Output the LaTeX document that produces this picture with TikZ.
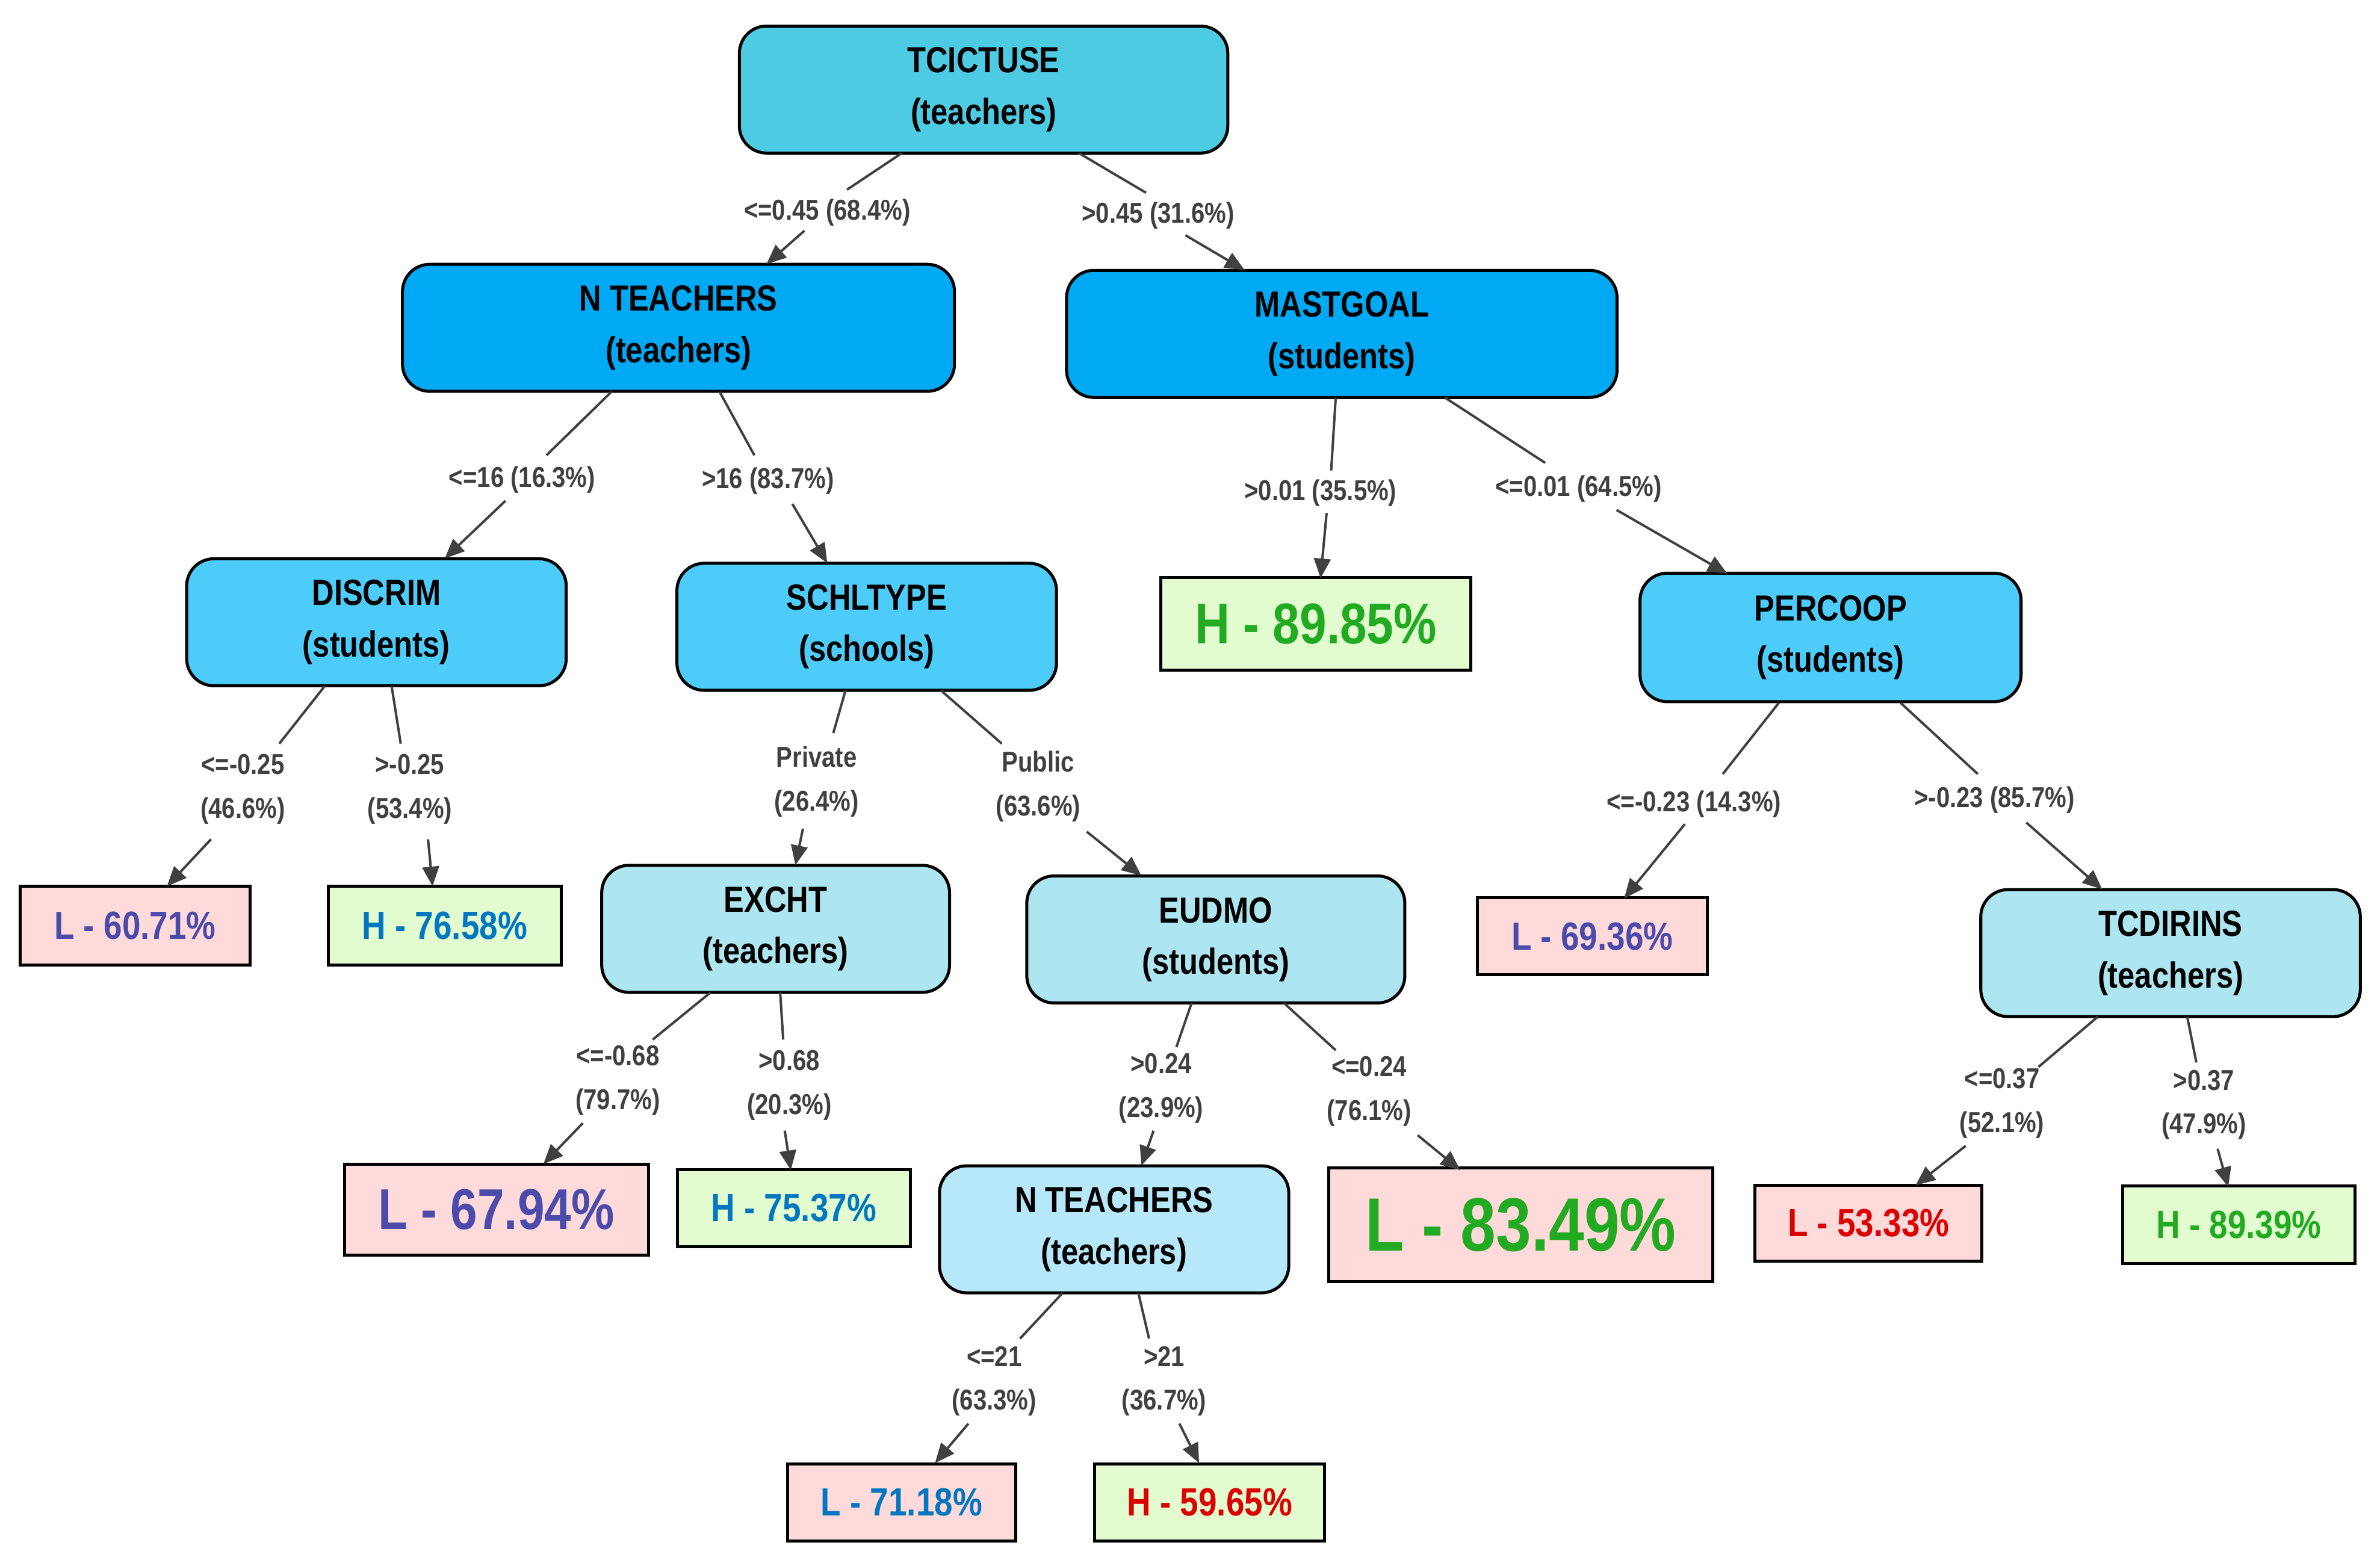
\documentclass[tikz,border=0pt]{standalone}
\usepackage{fontspec}
\setmainfont{Liberation Sans}[FakeStretch=0.84]
\usetikzlibrary{arrows.meta}
\definecolor{c1}{HTML}{4DCBE3}
\definecolor{c2}{HTML}{00A9F4}
\definecolor{c3}{HTML}{4DCCFA}
\definecolor{c4}{HTML}{ADE6F0}
\definecolor{c5}{HTML}{B7E8F9}
\definecolor{lp}{HTML}{FFDADA}
\definecolor{lg}{HTML}{E2FCD0}
\definecolor{tpur}{HTML}{4B4BAB}
\definecolor{tblu}{HTML}{0077C0}
\definecolor{tgrn}{HTML}{22AA22}
\definecolor{tred}{HTML}{DD0000}
\definecolor{edge}{HTML}{404040}
\begin{document}
\begin{tikzpicture}[x=1bp,y=-1bp,
 inn/.style={draw=black,line width=2,rounded corners=18,align=center,font=\bfseries\fontsize{24}{34}\selectfont,inner sep=0},
 leaf/.style={draw=black,line width=2,align=center,font=\bfseries\fontsize{26}{30}\selectfont,inner sep=0},
 lbl/.style={align=center,text=edge,font=\bfseries\fontsize{19}{29}\selectfont,inner sep=0},
 ln/.style={edge,line width=1.6},
 ar/.style={edge,line width=1.6,-{Triangle[length=13,width=11]}}]
\useasboundingbox (0,0) rectangle (1568,1031.5);
% internal nodes
\node[inn,fill=c1,minimum width=323,minimum height=84] (tc) at (648,59) {TCICTUSE\\(teachers)};
\node[inn,fill=c2,minimum width=365,minimum height=84] (nt) at (447,216) {N TEACHERS\\(teachers)};
\node[inn,fill=c2,minimum width=364,minimum height=84] (mg) at (884,220) {MASTGOAL\\(students)};
\node[inn,fill=c3,minimum width=251,minimum height=84] (di) at (248,410) {DISCRIM\\(students)};
\node[inn,fill=c3,minimum width=251,minimum height=84] (sc) at (571,413) {SCHLTYPE\\(schools)};
\node[inn,fill=c3,minimum width=252,minimum height=85] (pc) at (1206,420) {PERCOOP\\(students)};
\node[inn,fill=c4,minimum width=230,minimum height=84] (ex) at (511,612) {EXCHT\\(teachers)};
\node[inn,fill=c4,minimum width=250,minimum height=84] (eu) at (801,619) {EUDMO\\(students)};
\node[inn,fill=c4,minimum width=251,minimum height=84] (td) at (1430,628) {TCDIRINS\\(teachers)};
\node[inn,fill=c5,minimum width=231,minimum height=84] (n2) at (734,810) {N TEACHERS\\(teachers)};
% leaves
\node[leaf,fill=lp,text=tpur,minimum width=152,minimum height=52] (a) at (89,610) {L - 60.71\%};
\node[leaf,fill=lg,text=tblu,minimum width=154,minimum height=52] (b) at (293,610) {H - 76.58\%};
\node[leaf,fill=lg,text=tgrn,minimum width=205,minimum height=61,font=\bfseries\fontsize{38}{40}\selectfont] (c) at (867,411) {H - 89.85\%};
\node[leaf,fill=lp,text=tpur,minimum width=152,minimum height=51] (d) at (1049,617) {L - 69.36\%};
\node[leaf,fill=lp,text=tpur,minimum width=201,minimum height=60,font=\bfseries\fontsize{38}{40}\selectfont] (e) at (327,797) {L - 67.94\%};
\node[leaf,fill=lg,text=tblu,minimum width=154,minimum height=51] (f) at (523,796) {H - 75.37\%};
\node[leaf,fill=lp,text=tgrn,minimum width=254,minimum height=75,font=\bfseries\fontsize{50}{52}\selectfont] (g) at (1002,807) {L - 83.49\%};
\node[leaf,fill=lp,text=tred,minimum width=150,minimum height=50] (h) at (1231,806) {L - 53.33\%};
\node[leaf,fill=lg,text=tgrn,minimum width=154,minimum height=51] (i) at (1475,807) {H - 89.39\%};
\node[leaf,fill=lp,text=tblu,minimum width=151,minimum height=51] (j) at (594,990) {L - 71.18\%};
\node[leaf,fill=lg,text=tred,minimum width=152,minimum height=51] (k) at (797,990) {H - 59.65\%};
% edge labels
\node[lbl] (l1) at (545,140) {<=0.45 (68.4\%)};
\node[lbl] (l2) at (763,142) {>0.45 (31.6\%)};
\node[lbl] (l3) at (344,316) {<=16 (16.3\%)};
\node[lbl] (l4) at (506,317) {>16 (83.7\%)};
\node[lbl] (l5) at (870,325) {>0.01 (35.5\%)};
\node[lbl] (l6) at (1040,322) {<=0.01 (64.5\%)};
\node[lbl] (l7) at (160,520) {<=-0.25\\(46.6\%)};
\node[lbl] (l8) at (270,520) {>-0.25\\(53.4\%)};
\node[lbl] (l9) at (538,515) {Private\\(26.4\%)};
\node[lbl] (l10) at (684,518) {Public\\(63.6\%)};
\node[lbl] (l11) at (1116,530) {<=-0.23 (14.3\%)};
\node[lbl] (l12) at (1314,527) {>-0.23 (85.7\%)};
\node[lbl] (l13) at (407,712) {<=-0.68\\(79.7\%)};
\node[lbl] (l14) at (520,715) {>0.68\\(20.3\%)};
\node[lbl] (l15) at (765,717) {>0.24\\(23.9\%)};
\node[lbl] (l16) at (902,719) {<=0.24\\(76.1\%)};
\node[lbl] (l17) at (1319,727) {<=0.37\\(52.1\%)};
\node[lbl] (l18) at (1452,728) {>0.37\\(47.9\%)};
\node[lbl] (l19) at (655,910) {<=21\\(63.3\%)};
\node[lbl] (l20) at (767,910) {>21\\(36.7\%)};
% connectors
\draw[ln] (594,101) -- (558,125); \draw[ar] (530,152) -- (505,174);
\draw[ln] (711,101) -- (755,127); \draw[ar] (781,155) -- (820,178);
\draw[ln] (403,258) -- (360,300); \draw[ar] (333,330) -- (293,368);
\draw[ln] (474,258) -- (497,300); \draw[ar] (522,332) -- (545,371);
\draw[ln] (880,262) -- (877,310); \draw[ar] (874,338) -- (870,381);
\draw[ln] (952,262) -- (1018,305); \draw[ar] (1065,336) -- (1138,378);
\draw[ln] (214,452) -- (184,490); \draw[ar] (139,553) -- (110,584);
\draw[ln] (258,452) -- (264,490); \draw[ar] (282,553) -- (285,584);
\draw[ln] (557,455) -- (549,483); \draw[ar] (529,546) -- (524,570);
\draw[ln] (620,455) -- (660,490); \draw[ar] (716,548) -- (752,577);
\draw[ln] (1172,463) -- (1135,510); \draw[ar] (1110,543) -- (1070,592);
\draw[ln] (1252,463) -- (1303,510); \draw[ar] (1335,542) -- (1385,586);
\draw[ln] (468,654) -- (430,685); \draw[ar] (384,740) -- (358,767);
\draw[ln] (514,654) -- (516,685); \draw[ar] (517,745) -- (521,771);
\draw[ln] (785,661) -- (775,690); \draw[ar] (760,745) -- (752,768);
\draw[ln] (846,661) -- (880,692); \draw[ar] (934,748) -- (962,771);
\draw[ln] (1382,670) -- (1343,703); \draw[ar] (1295,755) -- (1262,781);
\draw[ln] (1441,670) -- (1447,700); \draw[ar] (1461,757) -- (1468,782);
\draw[ln] (700,852) -- (672,882); \draw[ar] (638,938) -- (616,964);
\draw[ln] (750,852) -- (757,882); \draw[ar] (777,938) -- (790,964);
\end{tikzpicture}
\end{document}
